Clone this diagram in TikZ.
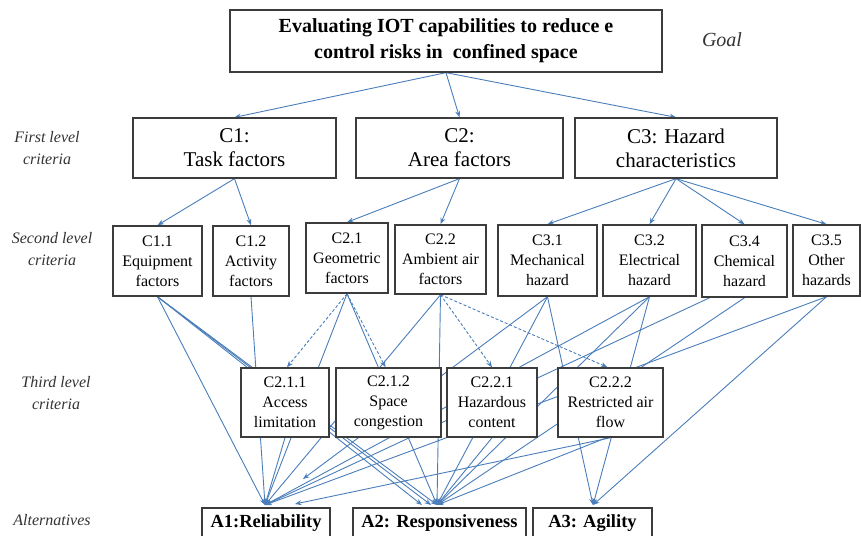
\documentclass[tikz,border=0pt]{standalone}
\usepackage{fontspec}
\setmainfont{Liberation Serif}
\usetikzlibrary{arrows.meta,backgrounds}
\definecolor{lnc}{RGB}{74,126,187}
\definecolor{bxc}{RGB}{60,60,60}
\begin{document}
\begin{tikzpicture}[x=1pt,y=-1pt,
  box/.style={draw=bxc,line width=1.3pt,fill=white,align=center,inner sep=0pt},
  box2/.style={box,line width=1.5pt,font=\fontsize{16}{20}\selectfont},
  lvl/.style={font=\fontsize{16}{22}\selectfont\itshape,align=center,text=black!80},
  conn/.style={draw=lnc,line width=0.9pt},
  arr/.style={conn,-{Stealth[length=6.5pt,width=5pt]}},
  dsh/.style={arr,dash pattern=on 3pt off 2pt},
]
\useasboundingbox (0,0) rectangle (861,535);
\clip (0,0) rectangle (861,535);

% goal
\node[box,minimum width=432pt,minimum height=62pt,font=\fontsize{20}{26}\selectfont\bfseries] (goal) at (446,41) {Evaluating IOT capabilities to reduce e\\control risks in \ confined space};
\node[font=\fontsize{20}{24}\selectfont\itshape,text=black!80] (goallbl) at (722,40) {Goal};

% level labels
\node[lvl] (l1) at (47,148) {First level\\criteria};
\node[lvl] (l2) at (52,249) {Second level\\criteria};
\node[lvl] (l3) at (56,393) {Third level\\criteria};
\node[lvl] (l4) at (52,520) {Alternatives};

% first level
\node[box,minimum width=203pt,minimum height=60pt,font=\fontsize{21}{24}\selectfont] (c1) at (234.5,148) {C1:\\Task factors};
\node[box,minimum width=207pt,minimum height=60pt,font=\fontsize{21}{24}\selectfont] (c2) at (459.5,148) {C2:\\Area factors};
\node[box,minimum width=202pt,minimum height=60pt,font=\fontsize{21}{24}\selectfont] (c3) at (676,148) {C3: Hazard\\characteristics};

% second level
\node[box2,minimum width=89pt,minimum height=70pt] (c11) at (157.5,261) {C1.1\\Equipment\\factors};
\node[box2,minimum width=76pt,minimum height=70pt] (c12) at (251,261) {C1.2\\Activity\\factors};
\node[box2,minimum width=82pt,minimum height=70pt] (c21) at (347,258) {C2.1\\Geometric\\factors};
\node[box2,minimum width=91pt,minimum height=69pt] (c22) at (440.5,259.5) {C2.2\\Ambient air\\factors};
\node[box2,minimum width=99pt,minimum height=71pt] (c31) at (547.5,260.5) {C3.1\\Mechanical\\hazard};
\node[box2,minimum width=93pt,minimum height=71pt] (c32) at (649.5,260.5) {C3.2\\Electrical\\hazard};
\node[box2,minimum width=85pt,minimum height=72pt] (c34) at (744.5,261) {C3.4\\Chemical\\hazard};
\node[box2,minimum width=67pt,minimum height=71pt] (c35) at (826.5,260.5) {C3.5\\Other\\hazards};

% third level
\node[box2,minimum width=88pt,minimum height=69pt] (c211) at (285,402.5) {C2.1.1\\Access\\limitation};
\node[box2,minimum width=105pt,minimum height=69pt] (c212) at (388.5,402.5) {C2.1.2\\Space\\congestion};
\node[box2,minimum width=90pt,minimum height=69pt] (c221) at (492,402.5) {C2.2.1\\Hazardous\\content};
\node[box2,minimum width=105pt,minimum height=69pt] (c222) at (610.5,402.5) {C2.2.2\\Restricted air\\flow};

% alternatives
\node[box,line width=1.5pt,minimum width=128pt,minimum height=30pt,font=\fontsize{18.5}{20}\selectfont\bfseries] (a1) at (266,523) {A1:Reliability};
\node[box,line width=1.5pt,minimum width=173pt,minimum height=30pt,font=\fontsize{18.5}{20}\selectfont\bfseries] (a2) at (439.5,523) {A2: Responsiveness};
\node[box,line width=1.5pt,minimum width=119pt,minimum height=30pt,font=\fontsize{18.5}{20}\selectfont\bfseries] (a3) at (592.5,523) {A3: Agility};

\coordinate (p1) at (265,505);
\coordinate (p1b) at (295,504);
\coordinate (p2) at (437,505);
\coordinate (p2b) at (422,505);
\coordinate (p2c) at (431,505);
\coordinate (p3) at (593,505);
\coordinate (s1) at (303,479);

\begin{pgfonlayer}{background}
% goal -> first level
\draw[arr] (goal.south) -- (c1.north);
\draw[arr] (goal.south) -- (c2.north);
\draw[arr] (goal.south) -- (c3.north);
% first -> second
\draw[arr] (c1.south) -- (c11.north);
\draw[arr] (c1.south) -- (c12.north);
\draw[arr] (c2.south) -- (c21.north);
\draw[arr] (c2.south) -- (c22.north);
\draw[arr] (c3.south) -- (c31.north);
\draw[arr] (c3.south) -- (c32.north);
\draw[arr] (c3.south) -- (c34.north);
\draw[arr] (c3.south) -- (c35.north);
% second -> third (dashed)
\draw[dsh] (c21.south) -- ([xshift=2pt]c211.north);
\draw[dsh] (c21.south) -- ([xshift=-3pt]c212.north);
\draw[dsh] (c22.south) -- (c221.north);
\draw[dsh] (c22.south) -- ([xshift=-3pt]c222.north);
% to alternatives
\draw[arr] (c11.south) -- (p1);
\draw[arr] (c11.south) -- (p2b);
\draw[arr] (c11.south) -- (p2c);
\draw[arr] (c11.south) -- (p2);
\draw[arr] (c12.south) -- (p1);
\draw[arr] (c21.south) -- (p1);
\draw[arr] (c21.south) -- (p2);
\draw[arr] (c22.south) -- (p1);
\draw[arr] (c22.south) -- (p2);
\draw[arr] (c31.south) -- (s1);
\draw[arr] (c31.south) -- (p2);
\draw[arr] (c31.south) -- (p3);
\draw[arr] (c32.south) -- (p1);
\draw[arr] (c32.south) -- (p2);
\draw[arr] (c32.south) -- (p3);
\draw[arr] ([xshift=-22pt,yshift=6pt]c34.south) -- (p1);
\draw[arr] (c34.south) -- (p2);
\draw[arr] (c35.south) -- (p1);
\draw[arr] (c35.south) -- (p3);
\draw[arr] (c211.south) -- (p1);
\draw[arr] (c221.south) -- (p2);
\draw[arr] (c222.south) -- (p1b);
\draw[arr] ([xshift=-4pt]c222.south) -- (p2);
\end{pgfonlayer}
\end{tikzpicture}
\end{document}
